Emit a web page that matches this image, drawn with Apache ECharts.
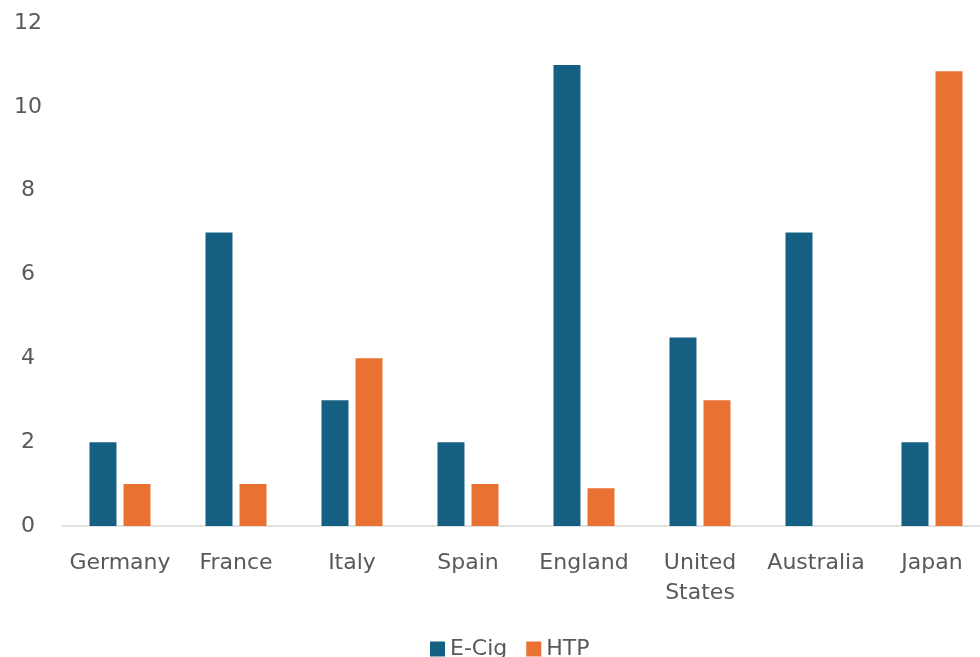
<!DOCTYPE html>
<html>
<head>
<meta charset="utf-8">
<script src="https://cdn.jsdelivr.net/npm/echarts@6/dist/echarts.min.js"></script>
<style>
  html, body { margin: 0; padding: 0; background: #fff; overflow: hidden; }
  /* the plot area runs a little past the window's right edge, as in the picture */
  #chart { width: 990px; height: 657px; }
</style>
</head>
<body>
<div id="chart"></div>
<script>
// data
var countries = ['Germany', 'France', 'Italy', 'Spain', 'England', 'United States', 'Australia', 'Japan'];
var eCig = [2, 7, 3, 2, 11, 4.5, 7, 2];
var htp = [1, 1, 4, 1, 0.9, 3, '-', 10.85];
var yTicks = { min: 0, max: 12, step: 2 };

var textColor = '#595959';
var font = 'DejaVu Sans';

var myChart = echarts.init(document.getElementById('chart'));
myChart.setOption({
    animation: false,
    textStyle: { fontFamily: font },
    grid: { left: 62, right: 0, top: 23, bottom: 131 },
    legend: {
        left: 425,
        top: 633,
        itemWidth: 15,
        itemHeight: 15,
        itemGap: 19,
        icon: 'rect',
        textStyle: { color: textColor, fontSize: 22, fontFamily: font },
        data: ['E-Cig', 'HTP']
    },
    xAxis: {
        type: 'category',
        data: countries,
        axisLine: { lineStyle: { color: '#D9D9D9', width: 1.5 } },
        axisTick: { show: false },
        axisLabel: {
            interval: 0,
            margin: 22,
            color: textColor,
            fontSize: 22,
            lineHeight: 30,
            fontFamily: font,
            formatter: function (v) { return v.replace(' ', '\n'); } // 两行显示
        }
    },
    yAxis: {
        type: 'value',
        min: yTicks.min,
        max: yTicks.max,
        interval: yTicks.step,
        splitLine: { show: false },
        axisLine: { show: false },
        axisTick: { show: false },
        axisLabel: { color: textColor, fontSize: 22, fontFamily: font, align: 'center', margin: 34 }
    },
    series: [
        {
            name: 'E-Cig',
            type: 'bar',
            data: eCig,
            barWidth: 27,
            barGap: '26%',
            itemStyle: { color: '#156082' }
        },
        {
            name: 'HTP',
            type: 'bar',
            data: htp,
            barWidth: 27,
            barGap: '26%',
            itemStyle: { color: '#E97132' }
        }
    ]
});
</script>
</body>
</html>
